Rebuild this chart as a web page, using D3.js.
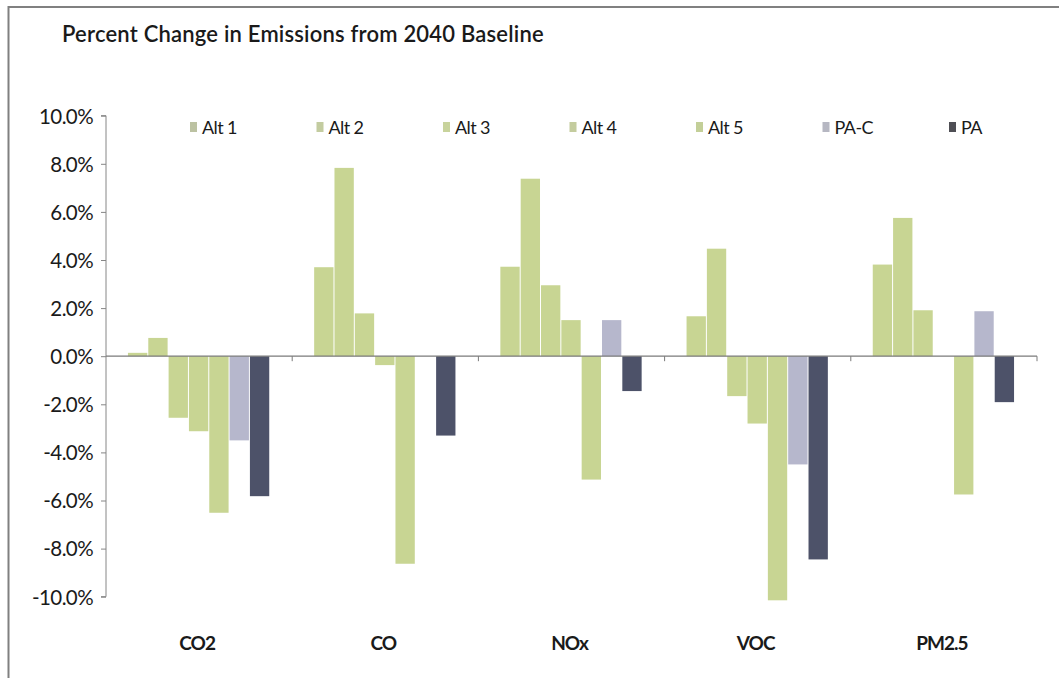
<!DOCTYPE html>
<html>
<head>
<meta charset="utf-8">
<script src="https://cdn.jsdelivr.net/npm/d3@7"></script>
<style>
  html, body { margin: 0; padding: 0; background: #fff; }
  svg { display: block; }
  text { font-family: Lato, "Open Sans", sans-serif; fill: #1a1a1a; }
</style>
</head>
<body>
<svg id="chart" width="1059" height="678"></svg>
<script>
const title = "Percent Change in Emissions from 2040 Baseline";
const categories = ["CO2", "CO", "NOx", "VOC", "PM2.5"];
const series = ["Alt 1", "Alt 2", "Alt 3", "Alt 4", "Alt 5", "PA-C", "PA"];
const seriesColors = ["#c8d593", "#c8d593", "#c8d593", "#c8d593", "#c8d593", "#b6b7cc", "#4d5269"];
const legendColors = ["#bcc2a2", "#c3cca0", "#c8d39c", "#c4cc9e", "#c3cf98", "#b6b7c2", "#4f4f55"];
// values in percent, one array per series, in category order
const alt1 = [0.14, 3.70, 3.72, 1.66, 3.81];
const alt2 = [0.76, 7.83, 7.38, 4.47, 5.75];
const alt3 = [-2.56, 1.78, 2.95, -1.66, 1.91];
const alt4 = [-3.12, -0.37, 1.50, -2.80, 0];
const alt5 = [-6.51, -8.63, -5.13, -10.15, -5.75];
const paC  = [-3.50, 0, 1.50, -4.50, 1.87];
const pa   = [-5.82, -3.30, -1.45, -8.45, -1.91];
const yTicks = [-10, -8, -6, -4, -2, 0, 2, 4, 6, 8, 10];

const values = [alt1, alt2, alt3, alt4, alt5, paC, pa];
const data = [];
categories.forEach((c, ci) => series.forEach((s, si) => data.push({cat: c, s, si, v: values[si][ci]})));

const svg = d3.select("#chart");

// frame
svg.append("path").attr("d", "M8.5,678 L8.5,7 L1059,7")
  .attr("fill", "none").attr("stroke", "#808080").attr("stroke-width", 2);

svg.append("text").attr("x", 62).attr("y", 42)
  .attr("font-size", 22).attr("font-weight", 600)
  .style("letter-spacing", "0.2px").text(title);

const y = d3.scaleLinear().domain([-10, 10]).range([596.7, 115.7]);
const x0 = d3.scaleBand().domain(categories).range([106, 1037]).paddingInner(0).paddingOuter(0);
const x1 = d3.scaleBand().domain(series).range([0, x0.bandwidth()]).paddingInner(0).paddingOuter(1.08);

// bars
svg.append("g").selectAll("rect").data(data.filter(d => d.v !== 0)).join("rect")
  .attr("x", d => x0(d.cat) + x1(d.s))
  .attr("width", x1.bandwidth() - 1)
  .attr("y", d => y(Math.max(0, d.v)))
  .attr("height", d => Math.abs(y(d.v) - y(0)))
  .attr("fill", d => seriesColors[d.si]);

// y axis
const fmt = d => (d < 0 ? "-" : "") + d3.format(".1f")(Math.abs(d)) + "%";
const yAxis = d3.axisLeft(y).tickValues(yTicks).tickSize(5).tickFormat(fmt);
const gy = svg.append("g").attr("transform", "translate(106,0)").call(yAxis);
gy.select(".domain").attr("stroke", "#868686").attr("d", "M-5,115.7H0V596.7H-5");
gy.selectAll(".tick line").attr("stroke", "#868686");
gy.selectAll(".tick text").attr("x", -13).attr("dy", "0.36em")
  .attr("font-size", 20.5).attr("font-family", "Lato, sans-serif").attr("fill", "#1a1a1a")
  .style("letter-spacing", "-0.6px");

// zero axis with category boundary ticks
const zeroY = y(0);
svg.append("line").attr("x1", 106).attr("x2", 1037).attr("y1", zeroY).attr("y2", zeroY)
  .attr("stroke", "#7a7a7a").attr("stroke-width", 1.2);
const bounds = categories.map(c => x0(c)).concat([x0.range()[1]]);
svg.append("g").selectAll("line").data(bounds.slice(1)).join("line")
  .attr("x1", d => d).attr("x2", d => d).attr("y1", zeroY).attr("y2", zeroY + 5)
  .attr("stroke", "#7a7a7a");

// category labels
svg.append("g").selectAll("text").data(categories).join("text")
  .attr("x", d => x0(d) + x0.bandwidth() / 2 - 2)
  .attr("y", 650).attr("text-anchor", "middle")
  .attr("font-size", 19).attr("font-weight", 700)
  .style("letter-spacing", "-1px")
  .text(d => d);

// legend
const lg = svg.append("g").selectAll("g").data(series).join("g")
  .attr("transform", (d, i) => `translate(${190 + i * 126.5},0)`);
lg.append("rect").attr("x", 0).attr("y", 122).attr("width", 7).attr("height", 10)
  .attr("fill", (d, i) => legendColors[i]);
lg.append("text").attr("x", 12).attr("y", 134).attr("font-size", 18)
  .style("letter-spacing", "-0.6px").text(d => d);
</script>
</body>
</html>
